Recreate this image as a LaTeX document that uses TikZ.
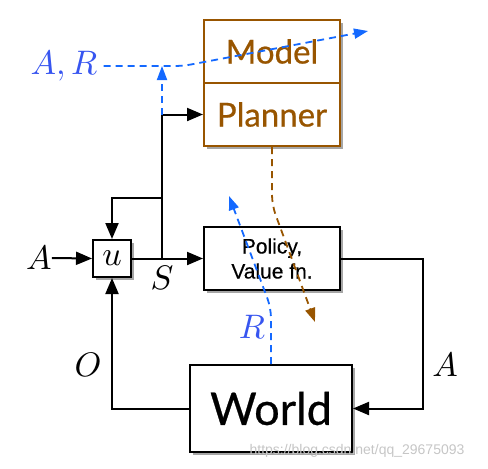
\documentclass[tikz,border=0pt]{standalone}
\usepackage{graphicx}
\usepackage{fontspec}
\usetikzlibrary{arrows.meta,shadows}
\newfontfamily\gillfont[FakeBold=0.6]{Lato}
\newfontfamily\arialfont[FakeBold=0.3]{Liberation Sans}
\newfontfamily\wmfont{Liberation Sans}
\definecolor{brn}{RGB}{152,85,0}
\definecolor{bdash}{RGB}{20,105,255}
\definecolor{blab}{RGB}{55,85,240}
\newcommand\mbig[1]{\scalebox{3.4}{$#1$}}
\begin{document}
\begin{tikzpicture}[x=1pt,y=-1pt,
  box/.style={draw, line width=2pt, fill=white, rectangle, inner sep=0pt,
    drop shadow={shadow xshift=2.5pt, shadow yshift=-2.5pt, opacity=0.35, fill=black}},
  mbox/.style={box, draw=brn, text=brn, minimum width=136pt, minimum height=63pt,
    font=\gillfont\fontsize{33}{33}\selectfont},
  mlab/.style={inner sep=0pt},
  ln/.style={line width=2pt},
  arr/.style={ln, -{Triangle[length=16pt,width=13pt]}},
  bd/.style={draw=bdash, line width=1.8pt, dash pattern=on 7pt off 5pt, -{Triangle[length=14pt,width=10pt]}},
  brd/.style={draw=brn, line width=1.8pt, dash pattern=on 7pt off 5pt, -{Triangle[length=14pt,width=10pt]}}
]
\useasboundingbox (0,0) rectangle (488,469);

% boxes
\node[mbox] (model) at (272,51.5) {Model};
\node[mbox] (planner) at (272,114.5) {Planner};
\node[box, minimum width=136pt, minimum height=63pt, align=center,
  font=\arialfont\fontsize{21}{25}\selectfont] (policy) at (272,258.5) {Policy,\\Value fn.};
\node[box, minimum width=38pt, minimum height=37pt] (u) at (112,258.5) {\mbig{u}};
\node[box, minimum width=162pt, minimum height=87pt,
  font=\gillfont\fontsize{45}{45}\selectfont] (world) at (271,408.5) {World};

% labels
\node[mlab] (Ain) at (39,258) {\mbig{A}};
\node[mlab] (S) at (162,278) {\mbig{S}};
\node[mlab] (O) at (88,365) {\mbig{O}};
\node[mlab] (Aout) at (445,365) {\mbig{A}};
\node[mlab, text=blab] (AR) at (64,66) {\mbig{A,R}};
\node[mlab, text=blab] (Rl) at (252,327) {\mbig{R}};
\node[inner sep=0pt, text=gray!45, font=\wmfont\fontsize{14}{14}\selectfont] (wm) at (357,451) {https://blog.csdn.net/qq\_29675093};

% coordinates
\coordinate (sj) at (162,258.5);
\coordinate (br) at (162,198);
\coordinate (pl) at (162,114.5);
\coordinate (top) at (162,66);
\coordinate (rt) at (423,258.5);
\coordinate (tc) at (183,66);
\coordinate (tt) at (368,31);
\coordinate (rm) at (271,308);
\coordinate (rtip) at (229,196);
\coordinate (bm) at (272,205);
\coordinate (btip) at (315,322);

% black connectors
\draw[arr] (Ain.east) -- (u.west);
\draw[arr] (u.east) -- (policy.west);
\draw[arr] (sj) -- (pl) -- (planner.west);
\draw[arr] (br) -| (u.north);
\draw[arr] (policy.east) -- (rt) |- (world.east);
\draw[arr] (world.west) -| (u.south);

% dashed connectors
\draw[bd] (pl) -- (top);
\draw[bd, rounded corners=8pt] (AR.east) ++(6,0) -- (tc) -- (tt);
\draw[bd, rounded corners=10pt] (world.north) -- (rm) -- (rtip);
\draw[brd, rounded corners=10pt] (planner.south) -- (bm) -- (btip);
\end{tikzpicture}
\end{document}
